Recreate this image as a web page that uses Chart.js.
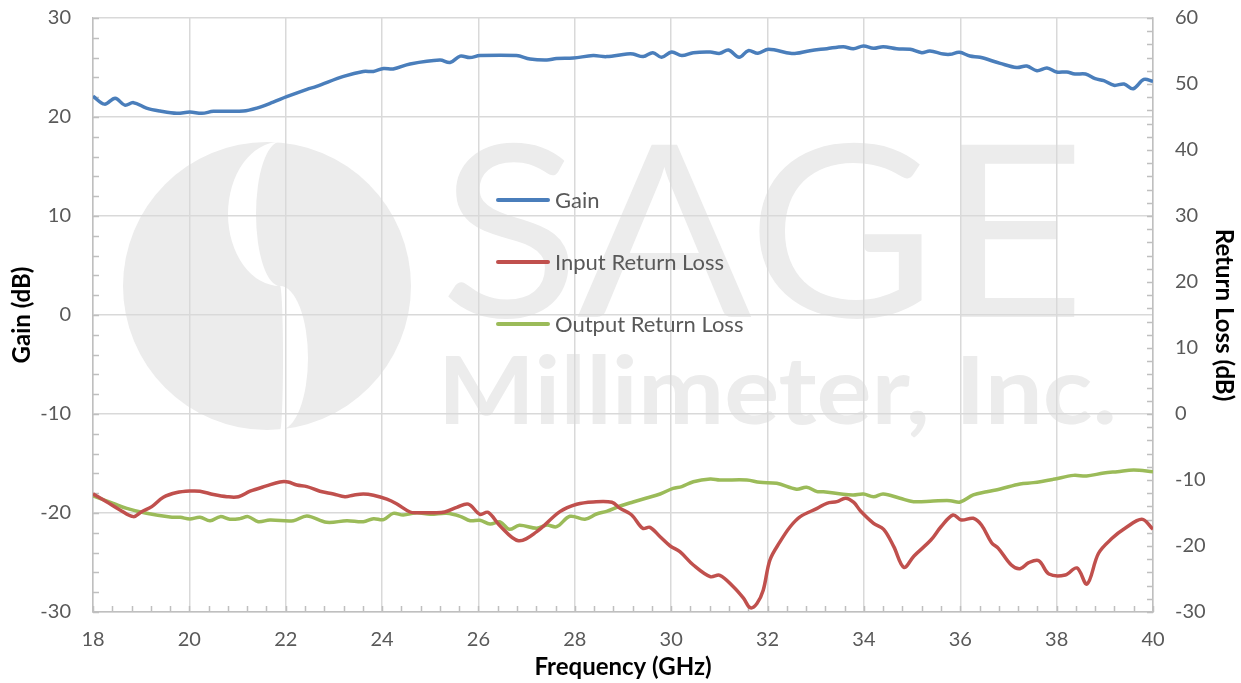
<!DOCTYPE html>
<html>
<head>
<meta charset="utf-8">
<script src="https://cdn.jsdelivr.net/npm/chart.js@4.4.1/dist/chart.umd.min.js"></script>
<style>
  html, body { margin: 0; padding: 0; background: #fff; }
  #chart { display: block; }
</style>
</head>
<body>
<canvas id="chart" width="1241" height="683"></canvas>
<script>
// gain curve (left axis, dB)
const gainFreq = [18.0, 18.24, 18.46, 18.66, 18.84, 19.11, 19.39, 19.74, 20.01, 20.26, 20.5, 21.12, 21.4, 21.74, 22.02, 22.44, 22.64, 23.2, 23.61, 23.82, 24.03, 24.23, 24.58, 25.2, 25.41, 25.62, 25.82, 26.03, 26.79, 27.07, 27.42, 27.62, 27.97, 28.38, 28.66, 29.08, 29.21, 29.42, 29.62, 29.8, 30.01, 30.22, 30.46, 30.81, 31.01, 31.19, 31.41, 31.6, 31.8, 32.02, 32.47, 32.6, 32.88, 33.23, 33.57, 33.78, 33.99, 34.2, 34.4, 34.68, 34.96, 35.2, 35.37, 35.65, 35.79, 35.98, 36.2, 36.41, 36.83, 37.17, 37.38, 37.59, 37.8, 38.0, 38.21, 38.38, 38.6, 38.8, 38.98, 39.19, 39.4, 39.59, 39.81, 40.0];
const gainDb = [22.1, 21.3, 21.9, 21.2, 21.45, 20.9, 20.6, 20.37, 20.5, 20.37, 20.57, 20.6, 20.9, 21.5, 22.05, 22.8, 23.1, 24.1, 24.6, 24.6, 24.9, 24.85, 25.35, 25.75, 25.5, 26.15, 26.0, 26.2, 26.2, 25.85, 25.75, 25.9, 25.96, 26.2, 26.1, 26.36, 26.36, 26.1, 26.5, 26.03, 26.57, 26.2, 26.5, 26.57, 26.43, 26.77, 26.03, 26.7, 26.43, 26.84, 26.43, 26.43, 26.7, 26.9, 27.1, 26.9, 27.17, 26.94, 27.1, 26.9, 26.84, 26.5, 26.67, 26.36, 26.33, 26.53, 26.16, 26.03, 25.42, 25.0, 25.15, 24.68, 24.95, 24.55, 24.55, 24.34, 24.34, 23.87, 23.67, 23.2, 23.33, 22.86, 23.8, 23.6];

// input return loss (right axis, dB)
const inFreq = [18.0, 18.28, 18.56, 18.84, 19.01, 19.22, 19.46, 19.74, 20.01, 20.22, 20.5, 20.78, 21.02, 21.26, 21.6, 21.88, 22.05, 22.23, 22.44, 22.71, 22.99, 23.23, 23.4, 23.61, 23.82, 24.1, 24.3, 24.58, 24.72, 25.06, 25.3, 25.55, 25.79, 26.03, 26.2, 26.45, 26.83, 27.21, 27.69, 28.04, 28.38, 28.77, 28.94, 29.18, 29.41, 29.56, 29.77, 29.98, 30.18, 30.46, 30.81, 31.01, 31.29, 31.5, 31.64, 31.78, 31.91, 32.05, 32.26, 32.47, 32.68, 33.03, 33.23, 33.44, 33.62, 33.79, 33.93, 34.2, 34.41, 34.62, 34.83, 35.04, 35.39, 35.6, 35.85, 36.02, 36.27, 36.44, 36.65, 36.79, 37.06, 37.24, 37.42, 37.63, 37.84, 38.18, 38.42, 38.63, 38.87, 39.15, 39.42, 39.77, 40.0];
const inLoss = [-12.1, -13.3, -14.55, -15.55, -14.8, -14.04, -12.62, -11.9, -11.67, -11.7, -12.2, -12.53, -12.53, -11.7, -10.9, -10.3, -10.3, -10.76, -11.0, -11.7, -12.12, -12.53, -12.3, -12.12, -12.3, -12.9, -13.6, -14.85, -14.95, -14.95, -14.85, -14.14, -13.65, -15.2, -14.9, -16.97, -19.2, -17.83, -14.8, -13.68, -13.33, -13.38, -14.3, -15.3, -17.32, -17.17, -18.6, -20.0, -20.86, -22.88, -24.65, -24.44, -26.17, -27.9, -29.35, -28.7, -26.7, -22.12, -19.35, -17.08, -15.55, -14.3, -13.53, -13.28, -12.77, -13.4, -14.7, -16.56, -17.47, -20.1, -23.23, -21.5, -19.1, -17.08, -15.3, -16.06, -15.8, -16.82, -19.5, -20.35, -22.88, -23.44, -22.53, -22.23, -24.24, -24.4, -23.33, -25.76, -21.1, -18.84, -17.32, -15.95, -17.47];

// output return loss (right axis, dB)
const outFreq = [18.0, 18.42, 18.7, 19.11, 19.6, 19.81, 20.01, 20.22, 20.43, 20.64, 20.84, 21.05, 21.22, 21.43, 21.67, 22.16, 22.44, 22.85, 23.27, 23.61, 23.82, 24.03, 24.23, 24.44, 24.72, 25.0, 25.34, 25.62, 25.83, 26.03, 26.24, 26.45, 26.64, 26.85, 27.21, 27.42, 27.62, 27.9, 28.21, 28.45, 28.66, 28.94, 29.21, 29.49, 29.77, 30.04, 30.22, 30.46, 30.81, 31.01, 31.57, 31.84, 32.19, 32.6, 32.81, 33.03, 33.16, 33.57, 33.78, 33.99, 34.2, 34.4, 34.75, 35.03, 35.44, 35.79, 36.0, 36.27, 36.55, 36.83, 37.24, 37.52, 37.93, 38.35, 38.62, 38.98, 39.26, 39.6, 40.0];
const outLoss = [-12.42, -13.53, -14.3, -15.05, -15.6, -15.65, -15.9, -15.65, -16.17, -15.55, -15.95, -15.85, -15.55, -16.32, -16.06, -16.17, -15.45, -16.41, -16.17, -16.32, -15.86, -16.0, -15.05, -15.3, -14.95, -15.2, -15.05, -15.5, -16.17, -16.1, -16.67, -16.36, -17.47, -16.86, -17.32, -16.82, -17.08, -15.5, -15.95, -15.15, -14.74, -13.94, -13.33, -12.73, -12.12, -11.27, -11.0, -10.26, -9.85, -10.0, -10.0, -10.35, -10.5, -11.4, -11.1, -11.77, -11.77, -12.17, -12.27, -12.12, -12.53, -12.12, -12.77, -13.28, -13.18, -13.13, -13.33, -12.27, -11.77, -11.36, -10.6, -10.4, -9.9, -9.3, -9.4, -8.94, -8.74, -8.5, -8.74];

const seriesNames = ['Gain', 'Input Return Loss', 'Output Return Loss'];
const seriesColors = ['#4a7ebb', '#c0504d', '#9bbb59'];

const FONT = 'Lato, "Open Sans", "Liberation Sans", sans-serif';
const TICK_COLOR = '#595959';
const GRID_COLOR = '#d9d9d9';
const AXIS_COLOR = '#bfbfbf';
const MARK_COLOR = '#ececec';

function toPoints(xs, ys) {
    return xs.map((x, i) => ({ x: x, y: ys[i] }));
}

// stretch a text into a box (used for the watermark)
function fitText(ctx, text, font, x0, x1, yTop, yBase) {
    ctx.font = font;
    const m = ctx.measureText(text);
    const w = m.actualBoundingBoxLeft + m.actualBoundingBoxRight;
    const h = m.actualBoundingBoxAscent;
    ctx.save();
    ctx.translate(x0, yBase);
    ctx.scale((x1 - x0) / w, (yBase - yTop) / h);
    ctx.textBaseline = 'alphabetic';
    ctx.fillText(text, m.actualBoundingBoxLeft, 0);
    ctx.restore();
}

const watermark = {
    id: 'watermark',
    beforeDraw(chart) {
        const ctx = chart.ctx;
        ctx.save();
        ctx.fillStyle = '#fff';
        ctx.fillRect(0, 0, chart.width, chart.height);

        // round logo with an S-shaped gap
        const cx = 267, cy = 286, R = 144;
        ctx.fillStyle = MARK_COLOR;
        ctx.beginPath();
        ctx.arc(cx, cy, R, 0, Math.PI * 2);
        ctx.fill();

        const sx = 280, h = R / 2;
        ctx.fillStyle = '#fff';
        // upper crescent bulging left
        ctx.beginPath();
        ctx.ellipse(sx, cy - h, 52, h, 0, -Math.PI / 2, Math.PI / 2, true);
        ctx.ellipse(sx, cy - h, 24, h, 0, Math.PI / 2, -Math.PI / 2, false);
        ctx.closePath();
        ctx.fill();
        // lower crescent bulging right
        ctx.beginPath();
        ctx.ellipse(sx, cy + h, 28, h, 0, -Math.PI / 2, Math.PI / 2, false);
        ctx.ellipse(sx, cy + h, 3, h, 0, Math.PI / 2, -Math.PI / 2, true);
        ctx.closePath();
        ctx.fill();

        ctx.fillStyle = MARK_COLOR;
        fitText(ctx, 'SAGE', '400 250px ' + FONT, 448, 1075, 142, 317);
        fitText(ctx, 'Millimeter, Inc.', 'bold 100px ' + FONT, 446, 1113, 355, 424);
        ctx.restore();
    }
};

// minor tick marks drawn inside the plot area
const minorTicks = {
    id: 'minorTicks',
    beforeDatasetsDraw(chart) {
        const ctx = chart.ctx;
        const { left, right, bottom } = chart.chartArea;
        const xs = chart.scales.x, ys = chart.scales.y, y1 = chart.scales.y1;
        ctx.save();
        ctx.strokeStyle = AXIS_COLOR;
        ctx.lineWidth = 1.5;
        ctx.beginPath();
        for (let i = 0; i <= 55; i++) {
            const px = Math.round(xs.getPixelForValue(18 + i * 0.4)) + 0.5;
            ctx.moveTo(px, bottom);
            ctx.lineTo(px, bottom - 6);
        }
        for (let v = -30; v <= 30; v += 2) {
            const py = Math.round(ys.getPixelForValue(v)) + 0.5;
            ctx.moveTo(left, py);
            ctx.lineTo(left + 6, py);
        }
        for (let v = -30; v <= 60; v += 2) {
            const py = Math.round(y1.getPixelForValue(v)) + 0.5;
            ctx.moveTo(right, py);
            ctx.lineTo(right - 6, py);
        }
        ctx.stroke();
        ctx.restore();
    }
};

// legend placed inside the plot, one entry per row
const innerLegend = {
    id: 'innerLegend',
    afterDatasetsDraw(chart) {
        const ctx = chart.ctx;
        ctx.save();
        ctx.font = '22px ' + FONT;
        ctx.textBaseline = 'middle';
        ctx.lineCap = 'round';
        chart.data.datasets.forEach((ds, i) => {
            const y = 200 + i * 62;
            ctx.strokeStyle = ds.borderColor;
            ctx.lineWidth = 4;
            ctx.beginPath();
            ctx.moveTo(498, y);
            ctx.lineTo(548, y);
            ctx.stroke();
            ctx.fillStyle = TICK_COLOR;
            ctx.fillText(ds.label, 555, y + 1);
        });
        ctx.restore();
    }
};

const tickFont = { family: FONT, size: 20 };
const titleFont = { family: FONT, size: 24, weight: 'bold' };
// labels sit 22px off the axis; the gap comes from an invisible tick so the
// label padding does not push the plot area down
const hiddenTicks = { drawTicks: true, tickLength: 16, tickColor: 'rgba(0,0,0,0)' };

new Chart(document.getElementById('chart'), {
    type: 'line',
    data: {
        datasets: [
            { label: seriesNames[0], data: toPoints(gainFreq, gainDb), yAxisID: 'y', borderColor: seriesColors[0] },
            { label: seriesNames[1], data: toPoints(inFreq, inLoss), yAxisID: 'y1', borderColor: seriesColors[1] },
            { label: seriesNames[2], data: toPoints(outFreq, outLoss), yAxisID: 'y1', borderColor: seriesColors[2] }
        ].map(ds => Object.assign(ds, {
            borderWidth: 3.5,
            pointRadius: 0,
            tension: 0.35,
            fill: false,
            backgroundColor: ds.borderColor
        }))
    },
    options: {
        responsive: false,
        animation: false,
        layout: { padding: { top: 18, left: 0, right: 0, bottom: 0 } },
        plugins: {
            legend: { display: false },
            tooltip: { enabled: false }
        },
        scales: {
            x: {
                type: 'linear',
                position: 'bottom',
                min: 18,
                max: 40,
                ticks: { stepSize: 2, color: TICK_COLOR, font: tickFont, padding: 16 },
                grid: { color: GRID_COLOR, lineWidth: 1.5, drawTicks: false },
                border: { color: AXIS_COLOR, width: 1.5 },
                title: { display: true, text: 'Frequency (GHz)', color: '#000', font: titleFont, padding: { top: 0, bottom: 1 } },
                afterFit: s => { s.height = 71; }
            },
            y: {
                position: 'left',
                min: -30,
                max: 30,
                ticks: { stepSize: 10, color: TICK_COLOR, font: tickFont, padding: 6 },
                grid: Object.assign({ color: GRID_COLOR, lineWidth: 1.5 }, hiddenTicks),
                border: { color: AXIS_COLOR, width: 1.5 },
                title: { display: true, text: 'Gain (dB)', color: '#000', font: titleFont, padding: { top: 8, bottom: 0 } },
                afterFit: s => { s.width = 93; }
            },
            y1: {
                position: 'right',
                min: -30,
                max: 60,
                ticks: { stepSize: 10, color: TICK_COLOR, font: tickFont, padding: 6 },
                grid: Object.assign({ drawOnChartArea: false }, hiddenTicks),
                border: { color: AXIS_COLOR, width: 1.5 },
                title: { display: true, text: 'Return Loss (dB)', color: '#000', font: titleFont, padding: { top: 3, bottom: 0 } },
                afterFit: s => { s.width = 88; }
            }
        }
    },
    plugins: [watermark, minorTicks, innerLegend]
});
</script>
</body>
</html>
